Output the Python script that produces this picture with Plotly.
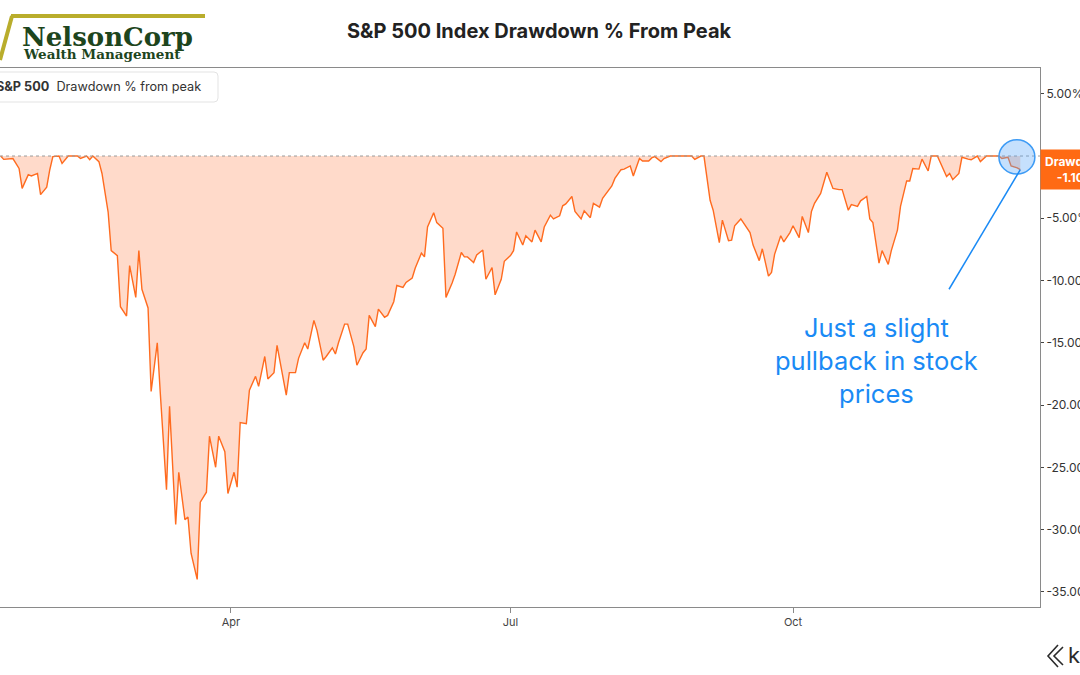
import plotly.graph_objects as go

# ---- data (S&P 500 drawdown % from peak, 2020) ----
dates = [
    "2020-01-17","2020-01-18","2020-01-21","2020-01-23","2020-01-24","2020-01-26","2020-01-27","2020-01-29","2020-01-30",
    "2020-02-01","2020-02-02","2020-02-03","2020-02-05","2020-02-06","2020-02-08","2020-02-09","2020-02-11","2020-02-12",
    "2020-02-14","2020-02-15","2020-02-16","2020-02-18","2020-02-19","2020-02-21","2020-02-22","2020-02-24","2020-02-25",
    "2020-02-27","2020-02-28","2020-03-01","2020-03-02","2020-03-03","2020-03-05","2020-03-06","2020-03-08","2020-03-09",
    "2020-03-11","2020-03-12","2020-03-14","2020-03-15","2020-03-17","2020-03-18","2020-03-19","2020-03-21","2020-03-22",
    "2020-03-24","2020-03-25","2020-03-27","2020-03-28","2020-03-30","2020-03-31","2020-04-02","2020-04-03","2020-04-04",
    "2020-04-06","2020-04-07","2020-04-09","2020-04-10","2020-04-12","2020-04-13","2020-04-15","2020-04-16","2020-04-17",
    "2020-04-19","2020-04-20","2020-04-22","2020-04-23","2020-04-25","2020-04-26","2020-04-28","2020-04-29","2020-05-01",
    "2020-05-02","2020-05-04","2020-05-05","2020-05-06","2020-05-08","2020-05-09","2020-05-11","2020-05-12","2020-05-14",
    "2020-05-15","2020-05-16","2020-05-18","2020-05-19","2020-05-21","2020-05-22","2020-05-24","2020-05-25","2020-05-27",
    "2020-05-28","2020-05-30","2020-05-31","2020-06-02","2020-06-03","2020-06-04","2020-06-06","2020-06-07","2020-06-09",
    "2020-06-10","2020-06-12","2020-06-13","2020-06-15","2020-06-16","2020-06-17","2020-06-19","2020-06-20","2020-06-22",
    "2020-06-23","2020-06-25","2020-06-26","2020-06-28","2020-06-29","2020-07-01","2020-07-02","2020-07-03","2020-07-05",
    "2020-07-06","2020-07-08","2020-07-09","2020-07-11","2020-07-12","2020-07-14","2020-07-15","2020-07-17","2020-07-18",
    "2020-07-19","2020-07-21","2020-07-22","2020-07-24","2020-07-25","2020-07-27","2020-07-28","2020-07-30","2020-07-31",
    "2020-08-02","2020-08-03","2020-08-04","2020-08-06","2020-08-07","2020-08-09","2020-08-10","2020-08-12","2020-08-13",
    "2020-08-15","2020-08-16","2020-08-17","2020-08-19","2020-08-20","2020-08-22","2020-08-23","2020-08-25","2020-08-26",
    "2020-08-28","2020-08-29","2020-08-30","2020-09-01","2020-09-02","2020-09-04","2020-09-05","2020-09-07","2020-09-08",
    "2020-09-10","2020-09-11","2020-09-12","2020-09-14","2020-09-15","2020-09-17","2020-09-18","2020-09-20","2020-09-21",
    "2020-09-23","2020-09-24","2020-09-25","2020-09-27","2020-09-28","2020-09-30","2020-10-01","2020-10-03","2020-10-04",
    "2020-10-06","2020-10-07","2020-10-08","2020-10-10","2020-10-12","2020-10-13","2020-10-14","2020-10-16","2020-10-17",
    "2020-10-19","2020-10-20","2020-10-22","2020-10-23","2020-10-25","2020-10-26","2020-10-27","2020-10-29","2020-10-30",
    "2020-11-01","2020-11-02","2020-11-04","2020-11-05","2020-11-07","2020-11-08","2020-11-09","2020-11-11","2020-11-12",
    "2020-11-14","2020-11-15","2020-11-17","2020-11-18","2020-11-20","2020-11-21","2020-11-22","2020-11-24","2020-11-25",
    "2020-11-27","2020-11-28","2020-11-30","2020-12-01","2020-12-03","2020-12-04","2020-12-05","2020-12-07","2020-12-08",
    "2020-12-10","2020-12-11","2020-12-13","2020-12-14",
]
drawdown = [
    0, -0.27, -0.2, -1.0, -2.6, -1.5, -1.6, -1.4, -3.1,
    -2.5, -1.1, -0.05, 0, -0.6, 0, 0, 0, -0.2,
    0, -0.3, 0, -0.45, -1.4, -4.5, -7.6, -8.0, -12.1,
    -12.85, -8.8, -11.35, -7.6, -10.7, -12.2, -18.9, -15.0, -19.1,
    -26.8, -20.1, -29.6, -25.4, -29.2, -29.0, -31.9, -34.0, -27.8,
    -27.0, -22.5, -25.0, -22.5, -23.75, -27.1, -25.4, -26.6, -21.4,
    -21.5, -18.8, -17.7, -18.5, -16.1, -17.9, -17.4, -15.2, -16.65,
    -19.2, -17.4, -17.4, -16.25, -15.0, -15.5, -13.2, -14.0, -16.4,
    -16.1, -15.4, -15.9, -15.0, -13.5, -13.5, -15.3, -16.8, -15.8,
    -15.5, -12.8, -13.7, -12.3, -12.95, -12.8, -11.7, -10.4, -10.55,
    -10.15, -9.8, -9.0, -7.8, -8.1, -5.7, -4.55, -5.35, -5.8,
    -11.35, -10.2, -9.5, -7.75, -8.1, -8.1, -8.55, -7.95, -7.55,
    -9.9, -8.95, -11.15, -9.9, -8.45, -8.0, -7.6, -6.1, -7.15,
    -6.4, -6.9, -5.95, -6.9, -5.7, -4.75, -5.05, -4.8, -4.0,
    -3.85, -3.25, -4.45, -5.05, -4.4, -4.95, -3.8, -4.1, -3.4,
    -2.75, -2.4, -1.8, -1.1, -1.05, -0.8, -1.6, -0.2, -0.4,
    -0.4, -0.15, -0.05, -0.45, -0.2, 0, 0, 0, 0,
    0, 0, -0.27, 0, 0, -3.55, -4.35, -6.95, -5.15,
    -6.8, -6.75, -5.6, -5.05, -5.45, -6.15, -7.15, -8.4, -7.45,
    -9.65, -9.35, -7.9, -6.4, -6.9, -6.15, -5.6, -6.55, -4.85,
    -6.15, -4.45, -3.8, -3.0, -1.3, -2.0, -2.6, -2.7, -2.7,
    -4.35, -3.9, -4.05, -3.6, -3.25, -5.05, -5.35, -8.6, -7.6,
    -8.7, -7.6, -5.95, -4.05, -2.0, -2.0, -1.0, -1.05, -0.25,
    -1.2, 0, 0, -0.6, -1.65, -1.4, -1.9, -1.4, -0.1,
    -0.25, -0.3, 0, -0.45, 0, 0, 0, 0, -0.2,
    -0.1, -0.8, -0.95, -1.1,
]

x_tick_vals = ["2020-04-01", "2020-07-01", "2020-10-01"]
x_tick_text = ["Apr", "Jul", "Oct"]
y_tick_vals = [5, 0, -5, -10, -15, -20, -25, -30, -35]
y_tick_text = ["5.00%", "0.00%", "-5.00%", "-10.00%", "-15.00%", "-20.00%", "-25.00%", "-30.00%", "-35.00%"]

series_name = "Drawdown % from peak"
title_text = "S&P 500 Index Drawdown % From Peak"
note_text = "Just a slight<br>pullback in stock<br>prices"

ORANGE = "#FF6B1F"
BLUE = "#1A8AF5"
GOLD = "#B9AD2C"
GREEN = "#1D451D"

W, H = 1080, 675
L, R, T, B = 0, 40, 68, 68
PW, PH = W - L - R, H - T - B


def px(xp):
    return (xp - L) / PW


def py(yp):
    return (H - B - yp) / PH


fig = go.Figure()
fig.add_trace(go.Scatter(
    x=dates, y=drawdown, mode="lines", name=series_name,
    line=dict(color=ORANGE, width=1.4),
    fill="tozeroy", fillcolor="rgba(255,120,60,0.27)",
    showlegend=False, hoverinfo="skip",
))

last_date, last_val = dates[-1], drawdown[-1]

# rounded legend box path (paper coords)
bx0, bx1, by0, by1, rr = -10, 218, 72, 102, 4
legend_box = (
    f"M {px(bx0)} {py(by0)} L {px(bx1 - rr)} {py(by0)} Q {px(bx1)} {py(by0)} {px(bx1)} {py(by0 + rr)} "
    f"L {px(bx1)} {py(by1 - rr)} Q {px(bx1)} {py(by1)} {px(bx1 - rr)} {py(by1)} L {px(bx0)} {py(by1)} Z"
)

shapes = [
    # dotted zero line
    dict(type="line", xref="paper", yref="y", x0=0, x1=1, y0=0, y1=0,
         line=dict(color="#9a9a9a", width=1, dash="dot"), layer="above"),
    # highlight circle
    dict(type="circle", xref="x", yref="y",
         x0="2020-12-07 01:00", x1="2020-12-18 18:00", y0=-1.45, y1=1.3,
         fillcolor="rgba(90,165,250,0.35)", line=dict(color="#3D9BF5", width=1.5), layer="above"),
    # pointer line
    dict(type="line", xref="x", yref="y",
         x0="2020-11-20 19:00", y0=-10.7, x1=last_date, y1=last_val,
         line=dict(color=BLUE, width=1.5), layer="above"),
    # legend box
    dict(type="path", xref="paper", yref="paper", path=legend_box,
         fillcolor="white", line=dict(color="#e3e3e3", width=1), layer="above"),
    # logo strokes (gold)
    dict(type="line", xref="paper", yref="paper", x0=px(11), x1=px(205),
         y0=py(16), y1=py(16), line=dict(color=GOLD, width=4)),
    dict(type="line", xref="paper", yref="paper", x0=px(0), x1=px(12),
         y0=py(60), y1=py(16), line=dict(color=GOLD, width=4)),
    # koyfin-like mark
    dict(type="path", xref="paper", yref="paper",
         path=f"M {px(1058)} {py(645)} L {px(1048)} {py(656)} L {px(1058)} {py(667)}"
              f" M {px(1063)} {py(647)} L {px(1054)} {py(656)} L {px(1063)} {py(665)}",
         line=dict(color="#2b2b2b", width=1.6)),
]

annotations = [
    dict(text=f"<b>{title_text}</b>", xref="paper", yref="paper",
         x=px(539), y=py(31), xanchor="center", yanchor="middle", showarrow=False,
         font=dict(family="Inter, Roboto, sans-serif", size=20, color="#222")),
    dict(text="<b>NelsonCorp</b>", xref="paper", yref="paper",
         x=px(20), y=py(37), xanchor="left", yanchor="middle", showarrow=False,
         font=dict(family="DejaVu Serif, Liberation Serif, serif", size=26, color=GREEN)),
    dict(text="<b>Wealth Management</b>", xref="paper", yref="paper",
         x=px(21), y=py(54), xanchor="left", yanchor="middle", showarrow=False,
         font=dict(family="DejaVu Serif, Liberation Serif, serif", size=13.5, color=GREEN)),
    dict(text=f"<b>S&P 500</b>  {series_name}", xref="paper", yref="paper",
         x=px(202), y=py(87), xanchor="right", yanchor="middle", showarrow=False,
         borderpad=0,
         font=dict(family="Inter, Roboto, sans-serif", size=12.7, color="#333")),
    dict(text=note_text, xref="paper", yref="paper",
         x=px(876), y=py(360), xanchor="center", yanchor="middle", showarrow=False,
         align="center",
         font=dict(family="Inter, Roboto, sans-serif", size=25.5, color=BLUE)),
    dict(text=f"<b>Drawdown<br>{last_val:.2f}%</b>", xref="paper", yref="y",
         x=1, y=last_val, xanchor="left", yanchor="middle", showarrow=False,
         bgcolor="#FF6A13", borderpad=4, align="center",
         font=dict(family="Inter, Roboto, sans-serif", size=12, color="white")),
    dict(text="k", xref="paper", yref="paper",
         x=px(1066), y=py(655), xanchor="left", yanchor="middle", showarrow=False,
         font=dict(family="Inter, Roboto, sans-serif", size=22, color="#2b2b2b")),
]

fig.update_layout(
    width=W, height=H, autosize=False,
    margin=dict(l=L, r=R, t=T, b=B, pad=0),
    paper_bgcolor="white", plot_bgcolor="white",
    shapes=shapes, annotations=annotations,
    showlegend=False,
    xaxis=dict(
        type="date", automargin=False,
        range=["2020-01-16 19:00", "2020-12-20 10:00"],
        tickvals=x_tick_vals, ticktext=x_tick_text,
        showgrid=False, zeroline=False,
        showline=True, linecolor="#8a8a8a", linewidth=1, mirror=True,
        ticks="outside", ticklen=5, tickcolor="#8a8a8a",
        tickfont=dict(family="Inter, Roboto, sans-serif", size=11, color="#444"),
    ),
    yaxis=dict(
        side="right", automargin=False,
        range=[-36.22, 7.07],
        tickvals=y_tick_vals, ticktext=y_tick_text,
        showgrid=False, zeroline=False,
        showline=True, linecolor="#8a8a8a", linewidth=1,
        ticks="outside", ticklen=3, tickcolor="#444",
        tickfont=dict(family="Inter, Roboto, sans-serif", size=12, color="#333"),
    ),
)

fig.write_html(
    "out.html",
    config={"responsive": False, "displayModeBar": False},
    post_script="document.body.style.margin='0';document.body.style.overflow='hidden';",
)
